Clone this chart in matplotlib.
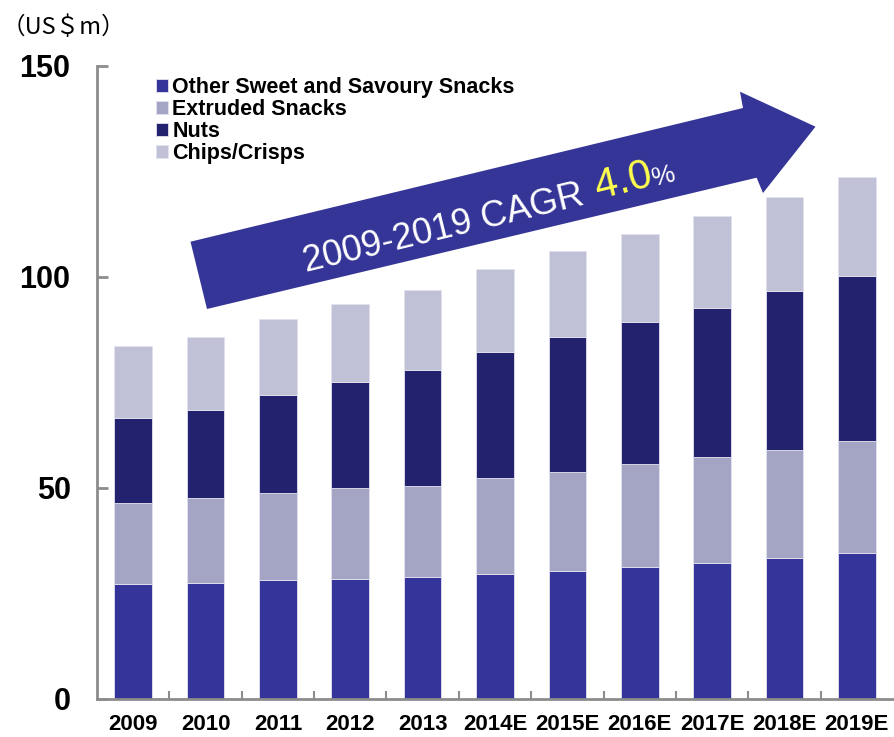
import matplotlib
matplotlib.use('Agg')
import numpy as np
import matplotlib.pyplot as plt
from matplotlib.patches import Polygon

# data (US$ m)
years = ['2009', '2010', '2011', '2012', '2013', '2014E', '2015E',
         '2016E', '2017E', '2018E', '2019E']
other = [27.2, 27.5, 28.1, 28.4, 28.8, 29.6, 30.3, 31.1, 32.1, 33.3, 34.5]
extruded = [19.1, 20.0, 20.6, 21.5, 21.7, 22.7, 23.5, 24.5, 25.1, 25.6, 26.6]
nuts = [20.3, 20.9, 23.3, 25.1, 27.5, 29.8, 31.8, 33.7, 35.5, 37.6, 39.1]
chips = [16.9, 17.2, 17.9, 18.5, 18.8, 19.7, 20.4, 20.9, 21.8, 22.5, 23.4]

series_names = ['Other Sweet and Savoury Snacks', 'Extruded Snacks', 'Nuts', 'Chips/Crisps']
series_colors = ['#34349a', '#a4a5c5', '#22226e', '#c0c0d6']
y_ticks = [0, 50, 100, 150]
cagr_label = '2009-2019 CAGR'
cagr_value = '4.0'

SANS = ['Liberation Sans', 'DejaVu Sans']
W, H = 894, 737

fig = plt.figure(figsize=(W / 100, H / 100), dpi=100)
ax = fig.add_axes([97 / W, (H - 698.7) / H, (893 - 97) / W, 633 / H])

x = np.arange(len(years))
bottom = np.zeros(len(years))
bars = []
for vals, name, col in zip([other, extruded, nuts, chips], series_names, series_colors):
    b = ax.bar(x, vals, width=0.52, bottom=bottom, color=col, label=name,
               edgecolor='#e2e2ee', linewidth=0.6, zorder=2)
    bars.append(b)
    bottom = bottom + np.array(vals)

ax.set_xlim(-0.5, len(years) - 0.5)
ax.set_ylim(0, 150)

for s in ['top', 'right']:
    ax.spines[s].set_visible(False)
for s in ['left', 'bottom']:
    ax.spines[s].set_color('#8c8c8c')
    ax.spines[s].set_linewidth(2)

ax.set_yticks(y_ticks)
ax.set_yticklabels([str(t) for t in y_ticks], family=SANS, fontsize=22, fontweight='bold')
ax.tick_params(axis='y', direction='in', length=8, width=2, color='#8c8c8c', pad=19)

ax.set_xticks(x)
ax.set_xticklabels(years, family=SANS, fontsize=16, fontweight='bold')
ax.tick_params(axis='x', length=0, pad=11)
ax.set_xticks(x[:-1] + 0.5, minor=True)
ax.tick_params(axis='x', which='minor', direction='in', length=6, width=1.5, color='#8c8c8c')

# legend
leg = fig.legend(handles=bars, labels=series_names, loc='upper left',
                 bbox_to_anchor=(156 / W, 1 - 77 / H), bbox_transform=fig.transFigure,
                 frameon=False, borderpad=0, borderaxespad=0,
                 handlelength=0.55, handleheight=0.55, handletextpad=0.2,
                 labelspacing=0.05, prop={'family': SANS, 'weight': 'bold', 'size': 15.5})

# unit label
fig.text(2 / W, 1 - 27 / H, '（US＄m）', family=['Noto Sans CJK JP', 'DejaVu Sans'],
         fontsize=17, va='center', ha='left')


# big growth arrow, drawn in pixel space of the figure
def px(xp, yp):
    return (xp / W, 1 - yp / H)


arrow_pts = [px(190.5, 241.7), px(743, 108), px(740, 91.7), px(815.5, 126.7),
             px(763, 193), px(756.6, 177.7), px(207, 309)]
fig.patches.append(Polygon(arrow_pts, closed=True, transform=fig.transFigure,
                           facecolor='#353597', edgecolor='none', zorder=5))

angle = np.degrees(np.arctan(133.7 / 552.5))
fig.text(*px(306, 272), cagr_label, color='white', fontsize=26, family=SANS,
         rotation=angle, rotation_mode='anchor', ha='left', va='baseline', zorder=6)
fig.text(*px(598, 199), cagr_value, color='#ffff4d', fontsize=30, family=SANS,
         rotation=angle, rotation_mode='anchor', ha='left', va='baseline', zorder=6)
fig.text(*px(654, 186), '%', color='white', fontsize=19, family=SANS,
         rotation=angle, rotation_mode='anchor', ha='left', va='baseline', zorder=6)

fig.savefig('out.png', dpi=100)
